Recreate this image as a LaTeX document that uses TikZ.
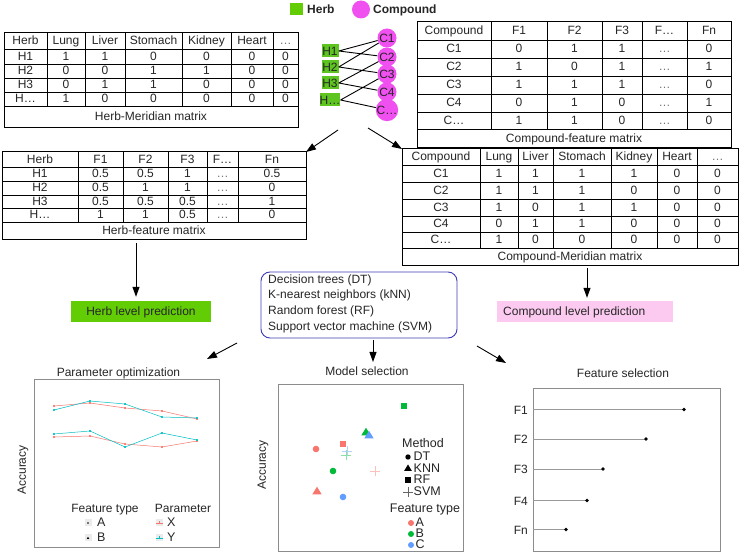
\documentclass[tikz,border=0pt]{standalone}
\usepackage{fontspec}
\setmainfont{Liberation Sans}
\usetikzlibrary{arrows.meta,fit}
\definecolor{ggred}{HTML}{F8766D}
\definecolor{gggreen}{HTML}{00BA38}
\definecolor{ggblue}{HTML}{619CFF}
\definecolor{ggcyan}{HTML}{00BFC4}
\definecolor{herbgreen}{HTML}{62CC05}
\definecolor{hnode}{HTML}{5EC420}
\definecolor{cmag}{HTML}{F050F0}
\definecolor{pinkbox}{HTML}{FCCAF0}
\definecolor{mlblue}{HTML}{3C3CB4}
\definecolor{keygray}{HTML}{EBEBEB}
\definecolor{axisgray}{HTML}{8C8C8C}
\newcommand\gd{\textcolor{black!55}{…}}

\newcommand\mkTable[7]{%
  \def\tcols{#2}\def\trows{#3}%
  \pgfmathsetmacro\xL{\tcols[0]}%
  \pgfmathsetmacro\xR{\tcols[#4]}%
  \pgfmathsetmacro\yT{\trows[0]}%
  \pgfmathsetmacro\yC{\trows[#5]}%
  \pgfmathtruncatemacro\nb{#5+1}%
  \pgfmathsetmacro\yB{\trows[\nb]}%
  \pgfmathtruncatemacro\nv{#4-1}%
  \foreach \k in {1,...,#5}{\pgfmathsetmacro\yy{\trows[\k]}\draw[gridline] (\xL,\yy) -- (\xR,\yy);}%
  \foreach \k in {1,...,\nv}{\pgfmathsetmacro\xx{\tcols[\k]}\draw[gridline] (\xx,\yT) -- (\xx,\yC);}%
  \node[tablebox, fit={(\xL,\yT) (\xR,\yB)}] (#1) {};%
  \foreach \rowlist [count=\r from 0] in {#6}{%
    \foreach \t [count=\c from 0] in \rowlist{%
      \pgfmathtruncatemacro\cn{\c+1}%
      \pgfmathtruncatemacro\rn{\r+1}%
      \pgfmathsetmacro\xa{\tcols[\c]}\pgfmathsetmacro\xb{\tcols[\cn]}%
      \pgfmathsetmacro\ya{\trows[\r]}\pgfmathsetmacro\yb{\trows[\rn]}%
      \pgfmathsetmacro\xm{(\xa+\xb)/2}%
      \pgfmathsetmacro\ym{(\ya+\yb)/2}%
      \node[cell] (#1-\r-\c) at (\xm,\ym) {\t};}}%
  \pgfmathsetmacro\xm{(\xL+\xR)/2}\pgfmathsetmacro\ym{(\yC+\yB)/2}%
  \node[cell] (#1-cap) at (\xm,\ym) {#7};%
}
\newcommand\mpt[3]{\fill[#3] (#1,#2) circle (3.3);}
\newcommand\msq[3]{\fill[#3] (#1-3.2,#2-3.2) rectangle (#1+3.2,#2+3.2);}
\newcommand\mtri[3]{\fill[#3] (#1,#2-4.3) -- (#1+4.6,#2+3.3) -- (#1-4.6,#2+3.3) -- cycle;}
\newcommand\mplus[3]{\draw[#3, line width=0.6pt] (#1-5,#2) -- (#1+5,#2) (#1,#2-5) -- (#1,#2+5);}

\begin{document}
\begin{tikzpicture}[x=1pt,y=-1pt,font=\fontsize{12}{14}\selectfont,
  gridline/.style={line width=0.7pt,black},
  tablebox/.style={draw,line width=1pt,inner sep=0pt,outer sep=0pt},
  cell/.style={inner sep=0pt,text height=9.5pt,text depth=2pt,text=black!85},
  hbox/.style={fill=hnode,minimum width=17pt,minimum height=13pt,inner sep=0pt,text=black!85},
  cnode/.style={circle,fill=cmag,minimum size=19pt,inner sep=0pt,text=black!85},
  edge/.style={line width=0.9pt,black},
  arr/.style={-{Triangle[length=10pt,width=7pt]},line width=0.9pt},
  plotbox/.style={draw=axisgray,line width=0.6pt,inner sep=0pt},
  big/.style={font=\fontsize{12.5}{14}\selectfont,text height=8.5pt,text depth=1pt}]
\useasboundingbox[fill=white] (0,0) rectangle (740,553);

% ---- tables
\mkTable{HM}{{4,47,85,125,182,231,273,298}}{{33,49,64,78,92,106,128}}{7}{5}%
 {{Herb,Lung,Liver,Stomach,Kidney,Heart,\gd},{H1,1,1,0,0,0,0},{H2,0,0,1,1,0,0},{H3,0,1,1,0,0,0},{H…,1,0,0,0,0,0}}{Herb-Meridian matrix}
\mkTable{CF}{{417,491,547,602,642,687,731}}{{22,40,58,76,94,112,129,148}}{6}{6}%
 {{Compound,F1,F2,F3,F…,Fn},{C1,0,1,1,\gd,0},{C2,1,0,1,\gd,1},{C3,1,1,1,\gd,0},{C4,0,1,0,\gd,1},{C…,1,1,0,\gd,0}}{Compound-feature matrix}
\mkTable{HF}{{2,78,123,168,207,238,306}}{{152,167,181,195,208,222,240}}{6}{5}%
 {{Herb,F1,F2,F3,F…,Fn},{H1,0.5,0.5,1,\gd,0.5},{H2,0.5,1,1,\gd,0},{H3,0.5,0.5,0.5,\gd,1},{H…,1,1,0.5,\gd,0}}{Herb-feature matrix}
\mkTable{CM}{{402,480,518,553,611,657,697,738}}{{149,165,182,199,216,232,248,266}}{7}{6}%
 {{Compound,Lung,Liver,Stomach,Kidney,Heart,\gd},{C1,1,1,1,1,0,0},{C2,1,1,1,0,0,0},{C3,1,0,1,1,0,0},{C4,0,1,1,0,0,0},{C…,1,0,0,0,0,0}}{Compound-Meridian matrix}

% ---- legend at top
\node[fill=herbgreen,minimum width=13pt,minimum height=12pt,inner sep=0pt] (lgh) at (296.5,9) {};
\node[cell,anchor=west,font=\bfseries\fontsize{12}{14}\selectfont,text=black!85] (lght) at (307,9.5) {Herb};
\node[circle,fill=cmag,minimum size=18pt,inner sep=0pt] (lgc) at (361,9.5) {};
\node[cell,anchor=west,font=\bfseries\fontsize{12}{14}\selectfont,text=black!85] (lgct) at (373,9.5) {Compound};

% ---- herb-compound graph
\node[hbox] (H1) at (330,51) {H1};
\node[hbox] (H2) at (330,67) {H2};
\node[hbox] (H3) at (330,83) {H3};
\node[hbox] (H4) at (330,100) {H…};
\node[cnode] (C1) at (387,38) {C1};
\node[cnode] (C2) at (387,57) {C2};
\node[cnode] (C3) at (387,74) {C3};
\node[cnode] (C4) at (387,92) {C4};
\node[cnode] (C5) at (387,110) {C…};
\draw[edge] (H1.east) -- (C1) (H1.east) -- (C2)
            (H2.east) -- (C1) (H2.east) -- (C3)
            (H3.east) -- (C2) (H3.east) -- (C4)
            (H4.east) -- (C3) (H4.east) -- (C5);
\coordinate (gl) at (338,130);
\coordinate (gr) at (368,128);
\draw[arr] (gl) -- (HF.north east);
\draw[arr] (gr) -- (CM.north west);

% ---- prediction boxes
\node[fill=herbgreen,minimum width=140pt,minimum height=21pt,inner sep=0pt,text height=9.5pt,text depth=2pt,text=black!85] (herbpred) at (141,311.5) {Herb level prediction};
\node[fill=pinkbox,minimum width=176pt,minimum height=21pt,inner sep=0pt] (compred) at (585,311.5) {};
\node[cell,anchor=west] (compredt) at (503,311.5) {Compound level prediction};
\draw[arr] ([xshift=-18pt,yshift=-3pt]HF.south) -- ([xshift=-5pt,yshift=4pt]herbpred.north);
\draw[arr] ([xshift=17pt,yshift=-2pt]CM.south) -- ([xshift=2pt,yshift=3pt]compred.north);

% ---- model box
\node[draw=mlblue,rounded corners=9pt,line width=0.9pt,inner sep=0pt,fit={(261,272) (457,338)}] (models) {};
\node[anchor=west,align=left,inner sep=0pt,font=\fontsize{12}{15.7}\selectfont,text=black!85] (mltext) at (268,303.5)
 {Decision trees (DT)\\K-nearest neighbors (kNN)\\Random forest (RF)\\Support vector machine (SVM)};
\coordinate (a1s) at (237,343); \coordinate (a1e) at (207,359);
\coordinate (a2s) at (373,340); \coordinate (a2e) at (373,362);
\coordinate (a3s) at (477,346); \coordinate (a3e) at (506,363);
\draw[arr] (a1s) -- (a1e);
\draw[arr] (a2s) -- (a2e);
\draw[arr] (a3s) -- (a3e);

% ---- parameter optimization
\node[plotbox,fit={(34,379) (219,547)}] (pbox) {};
\node[cell] (ptitle) at (118.5,372.7) {Parameter optimization};
\node[cell,rotate=90] (pacc) at (22,470) {Accuracy};
\draw[ggred,line width=0.5pt] plot[mark=*,mark size=0.8pt] coordinates {(54,406) (90,403) (125,408) (162,411) (197,419)};
\draw[ggcyan,line width=0.5pt] plot[mark=*,mark size=0.8pt] coordinates {(54,410) (90,401) (125,404) (162,417) (197,418)};
\draw[ggred,line width=0.5pt] plot[mark=*,mark size=0.8pt] coordinates {(54,437) (90,436) (125,444) (162,447) (197,441)};
\draw[ggcyan,line width=0.5pt] plot[mark=*,mark size=0.8pt] coordinates {(54,434) (90,431) (125,447) (162,433) (197,440)};
\node[cell] (pft) at (105,509) {Feature type};
\node[cell] (ppar) at (183,509) {Parameter};
\fill[keygray] (84.5,519.5) rectangle (91.5,526.5);
\fill (88,523) circle (0.8);
\fill[keygray] (84.5,534.5) rectangle (91.5,541.5);
\fill (88,536.8) -- (89.2,538.8) -- (86.8,538.8) -- cycle;
\node[cell,big,anchor=west] (pA) at (97,523) {A};
\node[cell,big,anchor=west] (pB) at (97,538) {B};
\fill[keygray] (155.5,519.5) rectangle (162.5,526.5);
\draw[ggred,line width=0.5pt] (155.5,523) -- (162.5,523) (159,521.5) -- (159,524.5);
\fill[keygray] (155.5,534.5) rectangle (162.5,541.5);
\draw[ggcyan,line width=0.5pt] (155.5,538) -- (162.5,538) (159,536.5) -- (159,539.5);
\node[cell,big,anchor=west] (pX) at (167,523) {X};
\node[cell,big,anchor=west] (pY) at (167,538) {Y};

% ---- model selection
\node[plotbox,fit={(278,384) (463,551.5)}] (mbox) {};
\node[cell] (mtitle) at (367,372) {Model selection};
\node[cell,rotate=90] (macc) at (262,465) {Accuracy};
\msq{404}{406}{gggreen}
\mtri{366}{432}{gggreen}
\mtri{369}{435}{ggblue}
\msq{343}{444}{ggred}
\mpt{316}{449}{ggred}
\mplus{347}{451}{ggblue!45}
\mplus{346}{455}{gggreen!45}
\mpt{333}{471}{gggreen}
\mplus{375}{471}{ggred!45}
\mtri{317}{491}{ggred}
\mpt{343}{497}{ggblue}
\node[cell,big] (mmeth) at (423,444) {Method};
\fill (408,457) circle (2.7);
\fill (408,464.5) -- (411.8,470.8) -- (404.2,470.8) -- cycle;
\fill (405.3,477.3) rectangle (410.7,482.7);
\draw[black!60,line width=0.6pt] (403,492) -- (413,492) (408,487) -- (408,497);
\node[cell,big,anchor=west] (mDT) at (413.5,457) {DT};
\node[cell,big,anchor=west] (mKNN) at (413.5,468.5) {KNN};
\node[cell,big,anchor=west] (mRF) at (413.5,480) {RF};
\node[cell,big,anchor=west] (mSVM) at (413.5,492) {SVM};
\node[cell,big] (mft) at (425,509) {Feature type};
\fill[ggred] (411,523) circle (3);
\fill[gggreen] (411,534) circle (3);
\fill[ggblue] (411,545) circle (3);
\node[cell,big,anchor=west] (mA) at (415.5,523) {A};
\node[cell,big,anchor=west] (mB) at (415.5,534) {B};
\node[cell,big,anchor=west] (mC) at (415.5,545) {C};

% ---- feature selection
\node[plotbox,fit={(533,388) (720,551.5)}] (fbox) {};
\node[cell] (ftitle) at (623,374) {Feature selection};
\foreach \lab/\yy/\xd [count=\i] in {F1/409.5/684,F2/439/646,F3/469/603,F4/500.5/587,Fn/529.5/566}{
  \draw[black!40,line width=0.6pt] (533,\yy) -- (\xd,\yy);
  \fill (\xd,\yy) circle (1.9);
  \node[cell,anchor=east] (fl\i) at (528,\yy+1) {\lab};
}
\end{tikzpicture}
\end{document}
